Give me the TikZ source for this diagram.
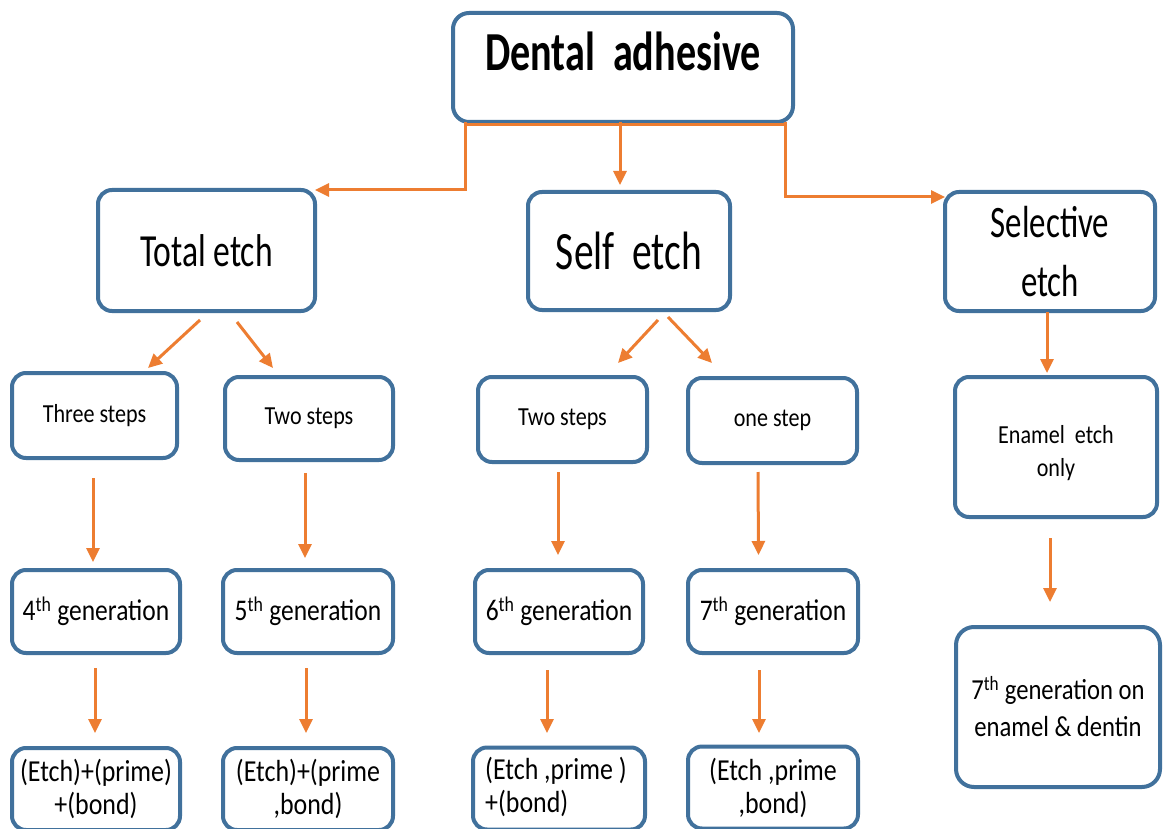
\documentclass[tikz,border=0pt]{standalone}
\usepackage{fontspec}
\setmainfont{Carlito}
\newfontfamily\widefont{Carlito}[FakeStretch=0.73]
\newfontfamily\narrowfont{Carlito}[FakeStretch=0.85]
\usetikzlibrary{arrows.meta,calc}
\definecolor{boxblue}{HTML}{41719C}
\definecolor{arrorange}{HTML}{ED7D31}

\begin{document}
\begin{tikzpicture}[x=1pt,y=-1pt,
  box/.style={draw=boxblue, line width=4pt, rounded corners=14pt, fill=white,
              outer sep=0pt, inner sep=0pt, align=center},
  conn/.style={draw=arrorange, line width=3pt},
  arr/.style={conn, -{Triangle[length=14pt,width=13pt]}},
  titlefont/.style={font=\widefont\bfseries\fontsize{55}{60}\selectfont},
  headfont/.style={font=\widefont\fontsize{46}{56}\selectfont},
  stepfont/.style={font=\narrowfont\fontsize{26}{33}\selectfont},
  genfont/.style={font=\narrowfont\fontsize{30}{36}\selectfont},
  mixfont/.style={font=\narrowfont\fontsize{30.5}{33}\selectfont}
]
\fill[white] (0,0) rectangle (1164,829);
\useasboundingbox (0,0) rectangle (1164,829);

% top level
\node[box, minimum width=340pt, minimum height=109pt, rounded corners=16pt] (dental) at (623,67.5) {};
\node[titlefont, inner sep=0pt] (dentaltext) at ($(dental.center)+(0,-16.5)$) {Dental\ \ adhesive};

% second level
\node[box, headfont, minimum width=217pt, minimum height=121pt] (total) at (206.5,250.5) {Total etch};
\node[box, font=\widefont\fontsize{54}{60}\selectfont, minimum width=202pt, minimum height=118pt] (self) at (629,251) {Self\ \ etch};
\node[box, font=\widefont\fontsize{45}{59}\selectfont, minimum width=210pt, minimum height=119pt] (selective) at (1050,251.5) {Selective\\etch};

% third level
\node[box, stepfont, minimum width=165pt, minimum height=85pt] (three) at (94.5,415.5) {Three steps};
\node[box, stepfont, minimum width=168pt, minimum height=83pt] (twoA) at (309,418.5) {Two steps};
\node[box, stepfont, minimum width=169pt, minimum height=85pt] (twoB) at (562.5,419.5) {Two steps};
\node[box, stepfont, minimum width=169pt, minimum height=85pt] (one) at (772.5,420.5) {one step};
\node[box, minimum width=202pt, minimum height=140pt] (enamel) at (1056,447) {};
\node[stepfont, inner sep=0pt, align=center] (enameltext) at ($(enamel.center)+(0,6)$) {Enamel\ \ etch\\only};

% generations
\node[box, genfont, minimum width=168pt, minimum height=83pt] (genA) at (96,611.5) {4\textsuperscript{th} generation};
\node[box, genfont, minimum width=170pt, minimum height=83pt] (genB) at (308,611.5) {5\textsuperscript{th} generation};
\node[box, genfont, minimum width=168pt, minimum height=83pt] (genC) at (559,611.5) {6\textsuperscript{th} generation};
\node[box, genfont, minimum width=170pt, minimum height=83pt] (genD) at (773,611.5) {7\textsuperscript{th} generation};
\node[box, font=\narrowfont\fontsize{29}{37}\selectfont, minimum width=204pt, minimum height=160pt, rounded corners=18pt] (genE) at (1058,707) {7\textsuperscript{th} generation on\\enamel \& dentin};

% components
\node[box, mixfont, minimum width=168pt, minimum height=82pt] (compA) at (96,789) {(Etch)+(prime)\\+(bond)};
\node[box, mixfont, minimum width=170pt, minimum height=82pt] (compB) at (308,789) {(Etch)+(prime\\,bond)};
\node[box, mixfont, minimum width=172pt, minimum height=82pt] (compC) at (559,788.5) {};
\node[mixfont, inner sep=0pt, align=left, anchor=west] (compCtext) at ($(compC.west)+(12,-2)$) {(Etch ,prime )\\+(bond)};
\node[box, mixfont, minimum width=170pt, minimum height=82pt] (compD) at (773,787.5) {(Etch ,prime\\,bond)};

% connectors from the root
\draw[conn] ($(dental.south west)+(12,3)$) -- ($(dental.south east)+(-8,3)$);
\draw[arr] ($(dental.south west)+(12,0)$) |- (total.north east);
\draw[arr] ($(dental.south)+(-3,0)$) -- ($(self.north)+(-9,-7)$);
\draw[arr] ($(dental.south east)+(-8,0)$) |- ($(selective.north west)+(0,5)$);

% branches of each technique
\draw[arr] ($(total.south)+(-6.5,9)$) -- ($(three.north)+(53.5,-5)$);
\draw[arr] ($(total.south)+(30.5,11)$) -- ($(twoA.north)+(-36,-9)$);
\draw[arr] ($(self.south)+(29,10)$) -- ($(twoB.north)+(55.5,-14)$);
\draw[arr] ($(self.south)+(39,7)$) -- ($(one.north)+(-60.5,-15)$);
\draw[arr] ($(selective.south)+(-3,1)$) -- ($(enamel.north)+(-9,-4)$);

% steps to generations
\draw[arr] ($(three.south)+(-1.5,20)$) -- ($(genA.north)+(-3,-8)$);
\draw[arr] ($(twoA.south)+(-4,13)$) -- ($(genB.north)+(-3,-12)$);
\draw[arr] ($(twoB.south)+(-4.5,10)$) -- ($(genC.north)+(-1,-15)$);
\draw[arr] ($(one.south)+(-14.5,9)$) -- ($(genD.north)+(-14.5,-15)$);
\draw[arr] ($(enamel.south)+(-6,21)$) -- ($(genE.north)+(-8,-25)$);

% generations to components
\draw[arr] ($(genA.south)+(-1,15)$) -- ($(compA.north)+(-1,-15)$);
\draw[arr] ($(genB.south)+(-2,15)$) -- ($(compB.north)+(-2,-15)$);
\draw[arr] ($(genC.south)+(-12,17)$) -- ($(compC.north)+(-12,-14.5)$);
\draw[arr] ($(genD.south)+(-14,17)$) -- ($(compD.north)+(-14,-13.5)$);
\end{tikzpicture}
\end{document}
